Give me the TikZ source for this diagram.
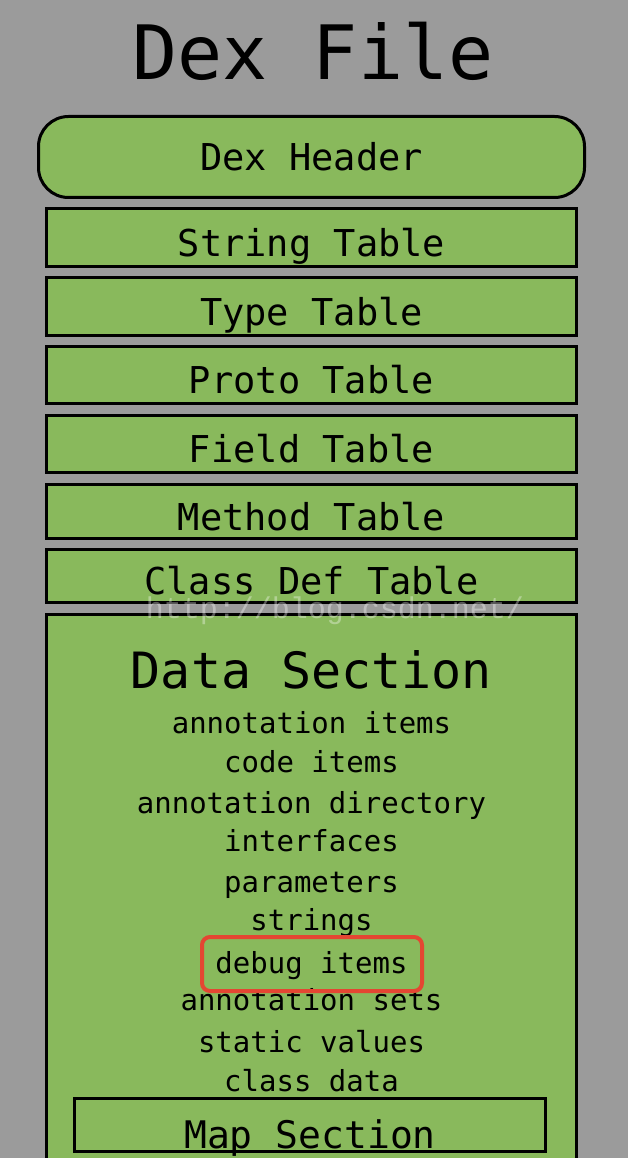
\documentclass[tikz,border=0pt]{standalone}
\usepackage{fontspec}
\setmonofont{DejaVu Sans Mono}
\newfontfamily\wmfont{Liberation Mono}
\definecolor{dexgreen}{RGB}{137,185,92}
\definecolor{dexgray}{RGB}{155,155,155}
\definecolor{markred}{RGB}{228,70,50}

\begin{document}
\begin{tikzpicture}[x=1pt, y=-1pt,
  tablebox/.style={draw, line width=3pt, fill=dexgreen, minimum width=530pt, inner sep=0pt,
    font=\ttfamily\fontsize{37}{37}\selectfont, text height=37pt, text depth=0pt},
  item/.style={anchor=base, font=\ttfamily\fontsize{29}{29}\selectfont},
  wm/.style={font=\wmfont\fontsize{30}{30}\selectfont, text=white, opacity=0.35}]

\clip (0,0) rectangle (628,1158);
\fill[dexgray] (0,0) rectangle (628,1158);

\node[anchor=base, font=\ttfamily\fontsize{75}{75}\selectfont] (0) at (313,80) {Dex File};

\node[tablebox, rounded corners=30pt, minimum width=546pt, minimum height=81pt, text height=27pt] (1) at (311.5,157) {Dex Header};
\node[tablebox, minimum height=58pt] (2) at (311.5,237.5) {String Table};
\node[tablebox, minimum height=58pt] (3) at (311.5,306.5) {Type Table};
\node[tablebox, minimum height=57pt] (4) at (311.5,375) {Proto Table};
\node[tablebox, minimum height=57pt] (5) at (311.5,444) {Field Table};
\node[tablebox, minimum height=54pt] (6) at (311.5,511.5) {Method Table};
\node[tablebox, minimum height=53pt] (7) at (311.5,576) {Class Def Table};

% data section runs past the bottom edge
\node[tablebox, minimum height=560pt] (8) at (311.5,894) {};
\node[anchor=base, font=\ttfamily\fontsize{50}{50}\selectfont] (9) at (311.5,688) {Data Section};

\node[item] (10) at (311.5,733) {annotation items};
\node[item] (11) at (311.5,772) {code items};
\node[item] (12) at (311.5,813) {annotation directory};
\node[item] (13) at (311.5,851) {interfaces};
\node[item] (14) at (311.5,892) {parameters};
\node[item] (15) at (311.5,930) {strings};
\node[item] (16) at (311.5,973) {debug items};
\node[item] (17) at (311.5,1010) {annotation sets};
\node[item] (18) at (311.5,1052) {static values};
\node[item] (19) at (311.5,1091) {class data};

\node[draw=markred, line width=4pt, rounded corners=8pt, minimum width=220pt, minimum height=54pt] (20) at (312,964) {};

\node[tablebox, line width=3.5pt, minimum width=471pt, minimum height=53pt, font=\ttfamily\fontsize{38}{38}\selectfont, text height=48pt, text depth=1pt] (21) at (310,1125) {Map Section};

\node[wm] (22) at (335,611) {http://blog.csdn.net/};

\end{tikzpicture}
\end{document}
